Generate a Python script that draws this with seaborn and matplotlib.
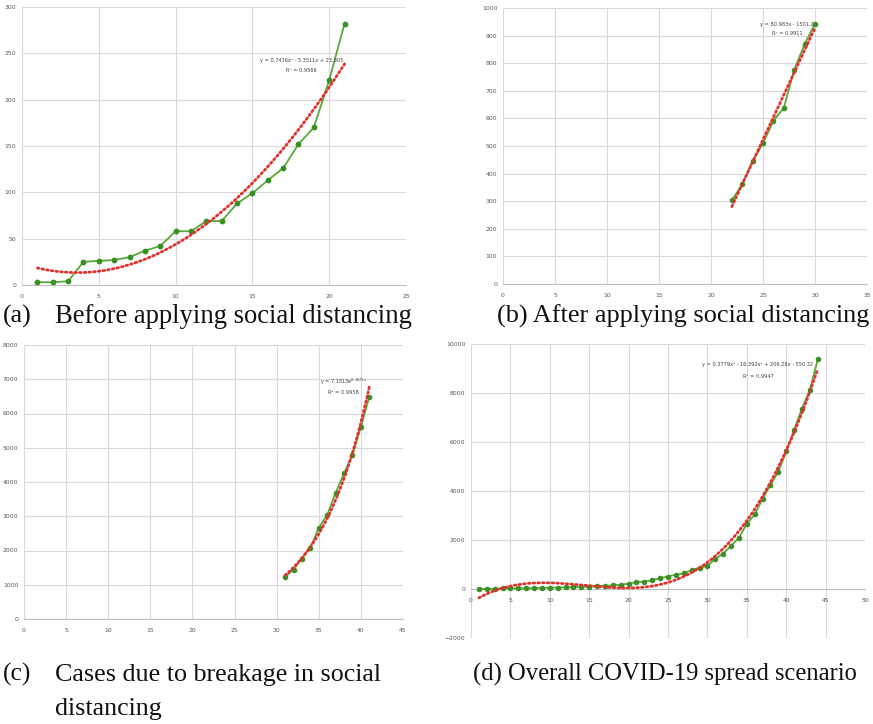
import numpy as np
import pandas as pd
import matplotlib
matplotlib.use("Agg")
import matplotlib.pyplot as plt
import seaborn as sns

# Cumulative confirmed cases per day, split by phase
days_a = list(range(1, 22))
cases_a = [3, 3, 4, 25, 26, 27, 30, 37, 42, 58, 58, 69, 69, 88, 99, 113, 126,
           152, 170, 221, 282]
days_b = list(range(22, 31))
cases_b = [303, 361, 445, 510, 591, 638, 776, 869, 943]
days_c = list(range(31, 42))
cases_c = [1228, 1442, 1764, 2086, 2661, 3041, 3684, 4250, 4786, 5614, 6491]
days_late = [42, 43, 44]
cases_late = [7367, 8117, 9372]

# Trendline coefficients and fit quality
poly_a = [0.7436, -5.3511, 23.005]
lin_b = [80.983, -1501.2]
exp_c = [7.1513, 0.1672]
poly_d = [0.3779, -16.392, 206.28, -550.32]
r2_values = [0.9566, 0.9911, 0.9958, 0.9947]

captions = ["(a)", "Before applying social distancing",
            "(b) After applying social distancing",
            "(c)", "Cases due to breakage in social", "distancing",
            "(d) Overall COVID-19 spread scenario"]

sns.set_theme(style="white")
plt.rcParams["font.family"] = ["DejaVu Sans"]

W, H = 873, 724
fig = plt.figure(figsize=(W / 100, H / 100), dpi=100)

LINE = "#5aa83a"
MARK = "#3b8f24"
TREND = "#e2312b"
GRID = "#d9d9d9"
TICK = "#595959"


def px_axes(left, top, right, bottom):
    return fig.add_axes([left / W, 1 - bottom / H, (right - left) / W, (bottom - top) / H])


def style(ax, xlim, xstep, ylim, ystep, zero_axis=False):
    ax.set_xlim(*xlim)
    ax.set_ylim(*ylim)
    ax.set_xticks(np.arange(xlim[0], xlim[1] + 0.1, xstep))
    ax.set_yticks(np.arange(ylim[0], ylim[1] + 0.1, ystep))
    ax.grid(True, color=GRID, linewidth=0.8)
    ax.set_axisbelow(True)
    for s in ["top", "right", "left"]:
        ax.spines[s].set_visible(False)
    ax.spines["bottom"].set_color("#bfbfbf")
    ax.spines["bottom"].set_linewidth(0.8)
    if zero_axis:
        ax.spines["bottom"].set_position(("data", 0))
    ax.tick_params(axis="both", length=0, labelsize=4.4, labelcolor=TICK)
    ax.tick_params(axis="x", pad=6.5)
    ax.tick_params(axis="y", pad=4)
    ax.set_xlabel("")
    ax.set_ylabel("")
    ax.set_facecolor("white")


def series(ax, x, y, ms=4.2):
    df = pd.DataFrame({"day": x, "cases": y})
    sns.lineplot(data=df, x="day", y="cases", ax=ax, color=LINE, linewidth=1.3,
                 marker="o", markersize=ms, markerfacecolor=MARK,
                 markeredgecolor=MARK, markeredgewidth=0, zorder=3)


def trend(ax, x0, x1, fn):
    xs = np.linspace(x0, x1, 300)
    df = pd.DataFrame({"day": xs, "fit": fn(xs)})
    sns.lineplot(data=df, x="day", y="fit", ax=ax, color=TREND, linewidth=2.0,
                 linestyle=(0, (0.6, 1.1)), dash_capstyle="round", zorder=4)


def eq_text(ax, x, y, line1, line2, dy):
    ax.text(x, y, line1, ha="center", va="center", fontsize=3.6, color="#404040")
    ax.text(x, y - dy, line2, ha="center", va="center", fontsize=3.6, color="#404040")


# (a) before social distancing
ax_a = px_axes(22, 7, 406, 285)
series(ax_a, days_a, cases_a, ms=4.2)
trend(ax_a, days_a[0], days_a[-1], lambda t: np.polyval(poly_a, t))
style(ax_a, (0, 25), 5, (0, 300), 50)
eq_text(ax_a, 18.2, 242,
        f"y = {poly_a[0]}x\u00b2 - {-poly_a[1]}x + {poly_a[2]}",
        f"R\u00b2 = {r2_values[0]}", 11)

# (b) after social distancing
ax_b = px_axes(503, 8, 867, 284)
series(ax_b, days_b, cases_b, ms=4.0)
trend(ax_b, days_b[0], days_b[-1], lambda t: np.polyval(lin_b, t))
style(ax_b, (0, 35), 5, (0, 1000), 100)
eq_text(ax_b, 27.3, 942, f"y = {lin_b[0]}x - {-lin_b[1]}",
        f"R\u00b2 = {r2_values[1]}", 36)

# (c) breakage in social distancing
ax_c = px_axes(24, 345, 403, 619)
series(ax_c, days_c, cases_c, ms=4.0)
trend(ax_c, days_c[0], days_c[-1], lambda t: exp_c[0] * np.exp(exp_c[1] * t))
style(ax_c, (0, 45), 5, (0, 8000), 1000)
eq_text(ax_c, 37.9, 6920, f"y = {exp_c[0]}e$^{{{exp_c[1]}x}}$",
        f"R\u00b2 = {r2_values[2]}", 320)

# (d) whole period
days_all = days_a + days_b + days_c + days_late
cases_all = cases_a + cases_b + cases_c + cases_late
ax_d = px_axes(471, 344, 865, 638)
series(ax_d, days_all, cases_all, ms=4.0)
trend(ax_d, days_all[0], days_all[-1], lambda t: np.polyval(poly_d, t))
style(ax_d, (0, 50), 5, (-2000, 10000), 2000, zero_axis=True)
eq_text(ax_d, 36.4, 9180,
        f"y = {poly_d[0]}x\u00b3 - {-poly_d[1]}x\u00b2 + {poly_d[2]}x - {-poly_d[3]}",
        f"R\u00b2 = {r2_values[3]}", 490)

# Captions
cap = dict(family=["Liberation Serif"], color="#111111", va="baseline")


def fig_text(x, y, s, size, **kw):
    fig.text(x / W, 1 - y / H, s, fontsize=size, **kw)


fig_text(3, 323, captions[0], 18.6, **cap)
fig_text(55, 323, captions[1], 19.2, **cap)
fig_text(497, 323, captions[2], 18.9, **cap)
fig_text(3, 681, captions[3], 18.4, **cap)
fig_text(55, 681, captions[4], 18.7, **cap)
fig_text(55, 715, captions[5], 18.7, **cap)
fig_text(473, 681, captions[6], 17.7, **cap)

fig.savefig("out.png", dpi=100, facecolor="white")
